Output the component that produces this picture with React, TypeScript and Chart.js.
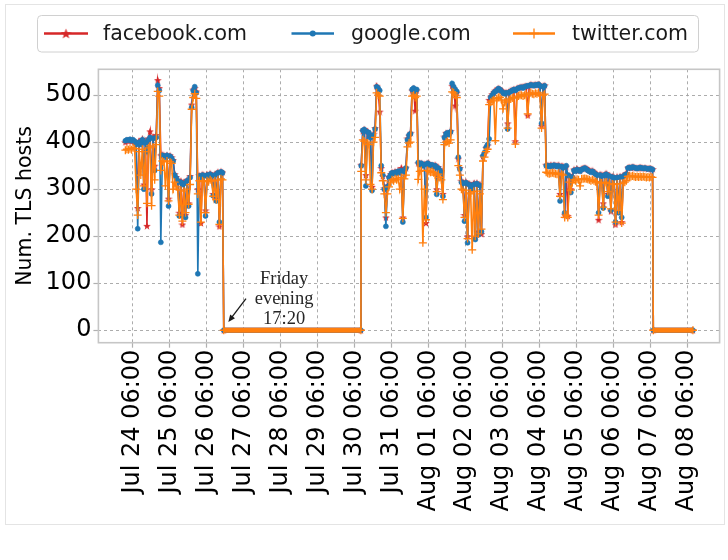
import { useEffect, useRef } from "react";
import { Chart, registerables } from "chart.js";

Chart.register(...registerables);

const FONT = '"DejaVu Sans", sans-serif';
const SERIF = '"Liberation Serif", "DejaVu Serif", serif';

// Sampling: hourly readings, time in hours since Jul 24 00:00
const SAMPLE_STEP_H = 1;
const RUN_STARTS_H = [1.5, 154.5];
// Capture stopped: the counts read zero between these times
const OUTAGE_FROM_H = [65.33, 344];
const OUTAGE_TO_H = [154.3, 369.7];

// First capture (Jul 24 01:30 -> Fri Jul 26 17:20)
const facebookRun1 = [
  400, 404, 403, 405, 402, 404, 400, 398, 260, 403,
  398, 407, 310, 402, 222, 408, 423, 300, 412, 350,
  415, 532, 515, 372, 374, 372, 370, 373, 280, 372,
  368, 362, 332, 326, 320, 250, 318, 225, 315, 245,
  320, 270, 328, 480, 512, 515, 508, 300, 330, 228,
  332, 330, 255, 332, 328, 334, 330, 290, 332, 280,
  337, 221, 338, 336,
];
const googleRun1 = [
  403, 405, 404, 406, 403, 405, 402, 395, 216, 400,
  395, 405, 300, 398, 380, 405, 410, 290, 408, 340,
  410, 521, 510, 187, 372, 370, 368, 372, 264, 370,
  366, 360, 330, 324, 318, 243, 315, 310, 312, 240,
  318, 264, 325, 474, 510, 518, 505, 120, 328, 325,
  330, 328, 243, 330, 326, 332, 328, 286, 330, 275,
  335, 230, 337, 335,
];
const twitterRun1 = [
  383, 385, 384, 386, 384, 388, 386, 300, 245, 380,
  330, 385, 307, 380, 270, 388, 392, 265, 390, 320,
  395, 508, 498, 340, 360, 358, 307, 360, 275, 358,
  355, 300, 315, 305, 300, 245, 298, 232, 296, 250,
  300, 268, 310, 470, 495, 503, 493, 290, 318, 230,
  318, 316, 250, 318, 316, 320, 317, 285, 318, 278,
  320, 225, 322, 320,
];

// Second capture (Jul 30 10:30 -> Aug 07 08:00)
const facebookRun2 = [
  352, 424, 428, 330, 424, 418, 412, 305, 418, 430,
  520, 512, 465, 345, 328, 302, 240, 308, 326, 332,
  336, 335, 338, 335, 340, 336, 345, 240, 340, 346,
  408, 414, 420, 510, 515, 467, 510, 355, 353, 356,
  350, 354, 228, 356, 355, 352, 350, 350, 352, 300,
  347, 342, 338, 290, 412, 420, 418, 418, 424, 520,
  515, 478, 505, 365, 345, 318, 315, 245, 316, 200,
  312, 310, 305, 313, 198, 314, 210, 310, 205, 370,
  376, 388, 393, 490, 497, 502, 506, 510, 512, 515,
  513, 510, 507, 505, 506, 440, 508, 510, 511, 513,
  402, 515, 516, 517, 518, 518, 519, 520, 457, 521,
  523, 522, 522, 523, 522, 524, 521, 435, 520, 521,
  352, 351, 350, 352, 350, 352, 351, 350, 352, 290,
  350, 349, 246, 348, 243, 330, 300, 327, 342, 340,
  344, 341, 340, 344, 345, 346, 345, 342, 340, 338,
  340, 337, 334, 332, 235, 332, 331, 270, 332, 334,
  290, 330, 253, 328, 326, 225, 327, 252, 328, 230,
  329, 331, 334, 346, 347, 346, 348, 347, 346, 345,
  346, 347, 346, 345, 346, 345, 344, 345, 344, 343,
];
const googleRun2 = [
  350, 425, 427, 307, 422, 420, 410, 297, 415, 428,
  518, 515, 510, 350, 330, 300, 221, 305, 325, 330,
  335, 333, 336, 334, 338, 335, 340, 230, 338, 345,
  405, 415, 418, 512, 515, 508, 512, 357, 352, 355,
  350, 352, 240, 355, 353, 350, 352, 348, 350, 289,
  345, 340, 335, 285, 410, 418, 420, 416, 422, 525,
  518, 512, 508, 368, 343, 315, 312, 232, 314, 186,
  310, 308, 300, 310, 193, 312, 203, 308, 210, 371,
  378, 389, 395, 407, 495, 500, 505, 508, 510, 514,
  512, 508, 505, 503, 505, 428, 506, 508, 510, 512,
  510, 513, 515, 516, 517, 515, 518, 519, 520, 520,
  522, 521, 520, 522, 521, 523, 520, 440, 518, 520,
  350, 350, 348, 350, 349, 351, 350, 348, 350, 275,
  348, 346, 250, 350, 330, 328, 293, 325, 340, 338,
  342, 340, 338, 342, 343, 345, 343, 340, 338, 336,
  338, 335, 332, 330, 250, 330, 328, 260, 330, 332,
  285, 328, 255, 326, 324, 230, 325, 250, 326, 240,
  327, 330, 332, 345, 346, 345, 347, 346, 345, 344,
  345, 346, 345, 344, 345, 344, 343, 344, 343, 342,
];
const twitterRun2 = [
  338, 405, 402, 320, 398, 395, 310, 300, 400, 410,
  505, 500, 498, 335, 318, 290, 250, 290, 305, 315,
  320, 318, 322, 320, 322, 300, 325, 238, 322, 330,
  390, 398, 400, 498, 500, 495, 498, 321, 338, 340,
  186, 300, 235, 340, 338, 336, 338, 335, 330, 295,
  332, 325, 320, 278, 395, 400, 402, 398, 405, 507,
  505, 500, 495, 350, 330, 300, 298, 240, 298, 195,
  290, 292, 171, 295, 200, 296, 205, 290, 215, 360,
  368, 380, 385, 480, 485, 488, 490, 403, 493, 495,
  495, 490, 471, 485, 488, 430, 490, 492, 494, 495,
  396, 496, 498, 500, 500, 498, 500, 502, 460, 502,
  505, 503, 502, 504, 503, 505, 500, 430, 500, 502,
  336, 334, 333, 334, 335, 334, 333, 332, 334, 285,
  332, 330, 240, 245, 240, 315, 298, 314, 320, 318,
  321, 320, 307, 322, 322, 323, 322, 321, 320, 318,
  320, 318, 316, 315, 245, 314, 313, 262, 314, 315,
  295, 312, 258, 311, 310, 230, 311, 255, 312, 228,
  313, 315, 318, 327, 328, 327, 328, 327, 326, 327,
  326, 327, 326, 327, 326, 325, 326, 325, 326, 325,
];

const SERIES_NAMES = ["facebook.com", "google.com", "twitter.com"];
const SERIES_COLORS = ["#d62728", "#1f77b4", "#ff7f0e"];

const X_TICK_HOURS = [6, 30, 54, 78, 102, 126, 150, 174, 198, 222, 246, 270, 294, 318, 342, 366];
const X_TICK_LABELS = [
  "Jul 24 06:00", "Jul 25 06:00", "Jul 26 06:00", "Jul 27 06:00",
  "Jul 28 06:00", "Jul 29 06:00", "Jul 30 06:00", "Jul 31 06:00",
  "Aug 01 06:00", "Aug 02 06:00", "Aug 03 06:00", "Aug 04 06:00",
  "Aug 05 06:00", "Aug 06 06:00", "Aug 07 06:00", "Aug 08 06:00",
];
const Y_TICKS = [0, 100, 200, 300, 400, 500];
const X_RANGE = [-16, 387];
const Y_RANGE = [-26.5, 555];

// Note at the Friday shutdown: text baseline of the middle line, arrow from/to (hour, count)
const NOTE_LINES = ["Friday", "evening", "17:20"];
const NOTE_AT = [104.5, 56.8];
const ARROW_FROM = [79.75, 67.4];
const ARROW_TO = [68.3, 17.7];

type Pt = { x: number; y: number };

function buildSeries(run1: number[], run2: number[]): Pt[] {
  const pts: Pt[] = [];
  run1.forEach((v, i) => pts.push({ x: RUN_STARTS_H[0] + i * SAMPLE_STEP_H, y: v }));
  pts.push({ x: OUTAGE_FROM_H[0], y: 0 }, { x: OUTAGE_TO_H[0], y: 0 });
  run2.forEach((v, i) => pts.push({ x: RUN_STARTS_H[1] + i * SAMPLE_STEP_H, y: v }));
  pts.push({ x: OUTAGE_FROM_H[1], y: 0 }, { x: OUTAGE_TO_H[1], y: 0 });
  return pts;
}

function makeStar(color: string, size: number): HTMLCanvasElement {
  const c = document.createElement("canvas");
  c.width = size;
  c.height = size;
  const g = c.getContext("2d")!;
  const cx = size / 2;
  const cy = size / 2 + size * 0.05;
  const R = size / 2;
  const r = R * 0.42;
  g.beginPath();
  for (let k = 0; k < 10; k++) {
    const a = -Math.PI / 2 + (k * Math.PI) / 5;
    const rad = k % 2 ? r : R;
    g.lineTo(cx + rad * Math.cos(a), cy + rad * Math.sin(a));
  }
  g.closePath();
  g.fillStyle = color;
  g.fill();
  return c;
}

function drawMarker(ctx: CanvasRenderingContext2D, kind: number, x: number, y: number, color: string, star: HTMLCanvasElement) {
  ctx.save();
  ctx.fillStyle = color;
  ctx.strokeStyle = color;
  if (kind === 0) {
    ctx.drawImage(star, x - star.width / 2, y - star.height / 2);
  } else if (kind === 1) {
    ctx.beginPath();
    ctx.arc(x, y, 3, 0, Math.PI * 2);
    ctx.fill();
  } else {
    ctx.lineWidth = 1.3;
    ctx.beginPath();
    ctx.moveTo(x - 5, y);
    ctx.lineTo(x + 5, y);
    ctx.moveTo(x, y - 5);
    ctx.lineTo(x, y + 5);
    ctx.stroke();
  }
  ctx.restore();
}

export default function App() {
  const ref = useRef<HTMLCanvasElement | null>(null);

  useEffect(() => {
    if (!ref.current) return;
    const starPlot = makeStar(SERIES_COLORS[0], 8);
    const starLegend = makeStar(SERIES_COLORS[0], 11);

    const frameAndNote = {
      id: "frameAndNote",
      afterDatasetsDraw(chart: any) {
        const { ctx, chartArea, scales } = chart;
        const xs = scales.x;
        const ys = scales.y;
        ctx.save();
        ctx.strokeStyle = "#c6c6c6";
        ctx.lineWidth = 1.6;
        ctx.strokeRect(chartArea.left, chartArea.top, chartArea.right - chartArea.left, chartArea.bottom - chartArea.top);

        ctx.fillStyle = "#262626";
        ctx.font = `18.5px ${SERIF}`;
        ctx.textAlign = "center";
        ctx.textBaseline = "alphabetic";
        const nx = xs.getPixelForValue(NOTE_AT[0]);
        const ny = ys.getPixelForValue(NOTE_AT[1]);
        NOTE_LINES.forEach((t, k) => ctx.fillText(t, nx, ny + (k - 1) * 20));

        const x0 = xs.getPixelForValue(ARROW_FROM[0]);
        const y0 = ys.getPixelForValue(ARROW_FROM[1]);
        const x1 = xs.getPixelForValue(ARROW_TO[0]);
        const y1 = ys.getPixelForValue(ARROW_TO[1]);
        const ang = Math.atan2(y1 - y0, x1 - x0);
        const head = 7;
        ctx.strokeStyle = "#1a1a1a";
        ctx.fillStyle = "#1a1a1a";
        ctx.lineWidth = 1.3;
        ctx.beginPath();
        ctx.moveTo(x0, y0);
        ctx.lineTo(x1 - Math.cos(ang) * head * 0.8, y1 - Math.sin(ang) * head * 0.8);
        ctx.stroke();
        ctx.beginPath();
        ctx.moveTo(x1, y1);
        ctx.lineTo(x1 - head * Math.cos(ang) + 3 * Math.sin(ang), y1 - head * Math.sin(ang) - 3 * Math.cos(ang));
        ctx.lineTo(x1 - head * Math.cos(ang) - 3 * Math.sin(ang), y1 - head * Math.sin(ang) + 3 * Math.cos(ang));
        ctx.closePath();
        ctx.fill();
        ctx.restore();
      },
      afterDraw(chart: any) {
        const { ctx } = chart;
        ctx.save();
        // legend box
        ctx.beginPath();
        (ctx as any).roundRect(37.5, 15.5, 661, 36.5, 4);
        ctx.fillStyle = "rgba(255,255,255,0.85)";
        ctx.fill();
        ctx.strokeStyle = "#d0d0d0";
        ctx.lineWidth = 1;
        ctx.stroke();
        const rows = [
          { x0: 44, x1: 88, tx: 103 },
          { x0: 291.5, x1: 334, tx: 351 },
          { x0: 513, x1: 555, tx: 572 },
        ];
        const ly = 33.5;
        rows.forEach((r, k) => {
          ctx.strokeStyle = SERIES_COLORS[k];
          ctx.lineWidth = 2.6;
          ctx.beginPath();
          ctx.moveTo(r.x0, ly);
          ctx.lineTo(r.x1, ly);
          ctx.stroke();
          drawMarker(ctx, k, (r.x0 + r.x1) / 2, ly, SERIES_COLORS[k], starLegend);
          ctx.fillStyle = "#1a1a1a";
          ctx.font = `20.5px ${FONT}`;
          ctx.textAlign = "left";
          ctx.textBaseline = "middle";
          ctx.fillText(SERIES_NAMES[k], r.tx, ly + 1);
        });
        ctx.restore();
      },
    };

    const runs = [
      [facebookRun1, facebookRun2],
      [googleRun1, googleRun2],
      [twitterRun1, twitterRun2],
    ];
    const pointStyles: any[] = [starPlot, "circle", "cross"];
    const radii = [4, 2.5, 4];

    const datasets = runs.map((r, k) => ({
      label: SERIES_NAMES[k],
      data: buildSeries(r[0], r[1]),
      borderColor: SERIES_COLORS[k],
      backgroundColor: SERIES_COLORS[k],
      borderWidth: 1.6,
      pointStyle: pointStyles[k],
      pointRadius: radii[k],
      pointBorderWidth: k === 2 ? 1.3 : 0.6,
      pointBorderColor: SERIES_COLORS[k],
      pointBackgroundColor: SERIES_COLORS[k],
      tension: 0,
      order: 3 - k,
      segment: {
        borderWidth: (c: any) => (c.p0.parsed.y === 0 && c.p1.parsed.y === 0 ? 5 : 1.6),
      },
    }));

    const chart = new Chart(ref.current, {
      type: "line",
      data: { datasets },
      plugins: [frameAndNote],
      options: {
        responsive: false,
        animation: false,
        devicePixelRatio: 1,
        events: [],
        layout: { padding: { top: 69.3, right: 8.4, bottom: 0, left: 0 } },
        plugins: { legend: { display: false }, tooltip: { enabled: false } },
        scales: {
          x: {
            type: "linear",
            min: X_RANGE[0],
            max: X_RANGE[1],
            afterBuildTicks: (s: any) => {
              s.ticks = X_TICK_HOURS.map((v) => ({ value: v }));
            },
            afterFit: (s: any) => {
              s.height = 217.3;
            },
            ticks: {
              autoSkip: false,
              minRotation: 90,
              maxRotation: 90,
              padding: 2,
              color: "#000",
              font: { family: FONT, size: 24 },
              callback: (v: any) => X_TICK_LABELS[X_TICK_HOURS.indexOf(Number(v))],
            },
            grid: { color: "#a3a3a3", lineWidth: 0.9, tickLength: 5, tickColor: "#b0b0b0", tickWidth: 1.2 },
            border: { display: false, dash: [3, 3] },
          },
          y: {
            type: "linear",
            min: Y_RANGE[0],
            max: Y_RANGE[1],
            afterBuildTicks: (s: any) => {
              s.ticks = Y_TICKS.map((v) => ({ value: v }));
            },
            afterFit: (s: any) => {
              s.width = 98.4;
            },
            ticks: {
              padding: 2,
              color: "#000",
              font: { family: FONT, size: 24 },
              callback: (v: any) => String(v),
            },
            title: {
              display: true,
              text: "Num. TLS hosts",
              color: "#000",
              font: { family: FONT, size: 20.5 },
              padding: { top: 13.5, bottom: 0 },
            },
            grid: { color: "#a3a3a3", lineWidth: 0.9, tickLength: 5, tickColor: "#b0b0b0", tickWidth: 1.2 },
            border: { display: false, dash: [3, 3] },
          },
        },
      } as any,
    });
    return () => chart.destroy();
  }, []);

  return (
    <div style={{ position: "absolute", left: 0, top: 0, width: 728, height: 560, background: "#fff" }}>
      <div
        style={{
          position: "absolute",
          left: 5,
          top: 4,
          width: 720,
          height: 521,
          border: "1px solid #e4e4e4",
          boxSizing: "border-box",
        }}
      />
      <canvas
        ref={ref}
        width={728}
        height={560}
        style={{ position: "absolute", left: 0, top: 0, width: "728px", height: "560px" }}
      />
    </div>
  );
}
